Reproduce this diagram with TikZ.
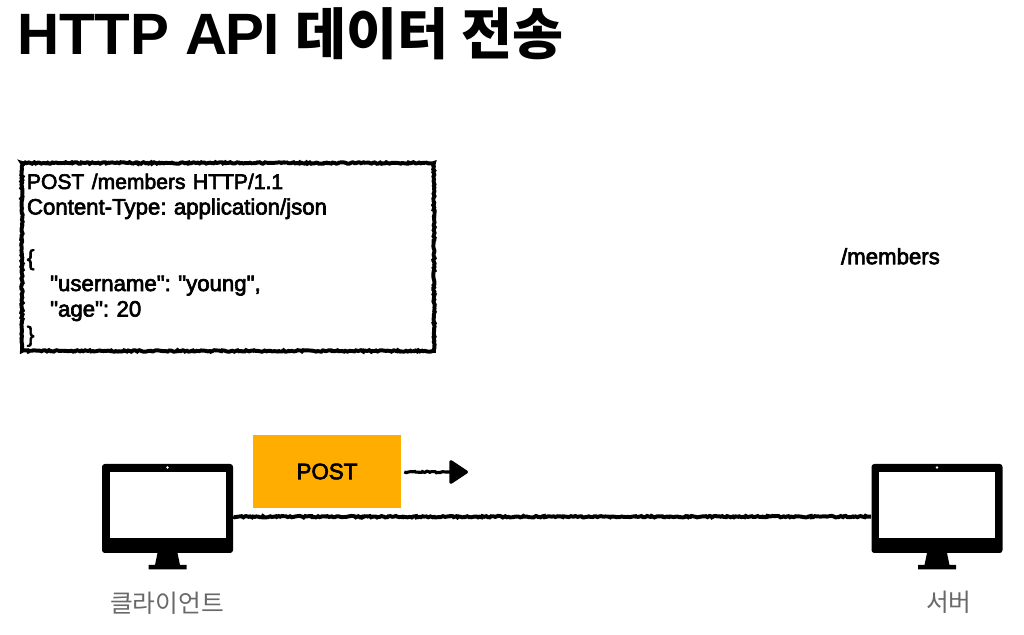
\documentclass[tikz,border=0pt]{standalone}
\usepackage{fontspec}
\usepackage{xcolor}
\usetikzlibrary{arrows.meta, positioning, decorations.pathmorphing}
\setmainfont{Liberation Sans}
\newfontfamily\bodyfont[FakeBold=3, WordSpace=0.8]{Liberation Sans}
\newfontfamily\krfont{Noto Sans CJK KR}
\definecolor{postorange}{RGB}{255, 173, 0}
\definecolor{labelgray}{RGB}{105, 105, 105}
\newcommand{\dq}{\symbol{34}}
\tikzset{
    roughline/.style={
        draw=black,
        line width=#1,
        decorate,
        decoration={random steps, segment length=1.2pt, amplitude=0.55pt, post=lineto, post length=3pt}
    },
    roughline/.default=2.8pt,
    title/.style={
        anchor=base west,
        inner sep=0pt,
        font=\fontsize{41.5}{46}\selectfont\bfseries
    },
    codebox/.style={
        roughline,
        rectangle,
        anchor=north west,
        minimum width=10.3cm,
        text width=10.05cm,
        inner xsep=0.125cm,
        inner ysep=0pt,
        text height=0.65cm,
        text depth=4.05cm,
        align=left,
        font=\frenchspacing\fontsize{15.8}{18.15}\selectfont\bodyfont
    },
    method/.style={
        rectangle,
        fill=postorange,
        minimum width=3.7cm,
        minimum height=1.825cm,
        font=\fontsize{15.9}{18}\selectfont\bodyfont
    },
    pathlabel/.style={
        inner sep=0pt,
        font=\fontsize{15.8}{18}\selectfont\bodyfont
    },
    monitorbody/.style={
        rectangle,
        rounded corners=2pt,
        fill=black,
        minimum width=3.275cm,
        minimum height=2.225cm,
        inner sep=0pt
    },
    monitorscreen/.style={
        rectangle,
        fill=white,
        minimum width=2.9cm,
        minimum height=1.65cm,
        inner sep=0pt
    },
    hostlabel/.style={
        text=labelgray,
        inner sep=0pt,
        font=\fontsize{17.6}{20}\selectfont\krfont
    },
    monitor/.pic={
        \node[monitorbody] (-body) at (0,0) {};
        \node[monitorscreen] (-screen) at (0,0.0875) {};
        \fill[white] (0,1.025) circle (0.035);
        \fill[black] (-0.25,-1.1125) -- (0.25,-1.1125) -- (0.3125,-1.4125) -- (0.475,-1.4125)
            -- (0.475,-1.525) -- (-0.475,-1.525) -- (-0.475,-1.4125) -- (-0.3125,-1.4125) -- cycle;
    }
}
\begin{document}
\begin{tikzpicture}[>=Stealth]
    \useasboundingbox (0,0) rectangle (25.6,15.875);

    \node[title] (heading) at (0.42,14.5) {HTTP A\kern-1.5pt P\kern-1pt I {\fontsize{39.5}{46}\selectfont\krfont 데이터 전송}};

    \node[codebox] (request) at (0.5,11.85) {{\fontsize{15}{18.15}\selectfont POST /members HTTP/1.1}\\Content-Type: application/json\\\strut\\\{\\\hspace*{0.58cm}\dq username\dq: \dq young\dq,\\\hspace*{0.58cm}\dq age\dq: 20\\\}};

    \node[pathlabel, anchor=base west] (path) at (21.02,9.27) {/members};

    \pic (client) at (4.1875,3.1625) {monitor};
    \pic (server) at (23.425,3.1625) {monitor};

    \node[hostlabel] (clientname) at (4.175,0.8) {클라이언트};
    \node[hostlabel] (servername) at (23.72,0.83) {서버};

    \node[method] (post) at (8.175,4.0875) {POST};
    \coordinate (posttip) at (11.7,4.075);

    \draw[roughline] ([yshift=-0.205cm]client-body.east) -- ([yshift=-0.205cm]server-body.west);
    \draw[roughline=2.2pt, decoration={post length=16pt}, -{Stealth[length=0.5cm, width=0.64cm, inset=0pt, round]}] ([xshift=0.075cm]post.east |- posttip) -- (posttip);
\end{tikzpicture}
\end{document}
